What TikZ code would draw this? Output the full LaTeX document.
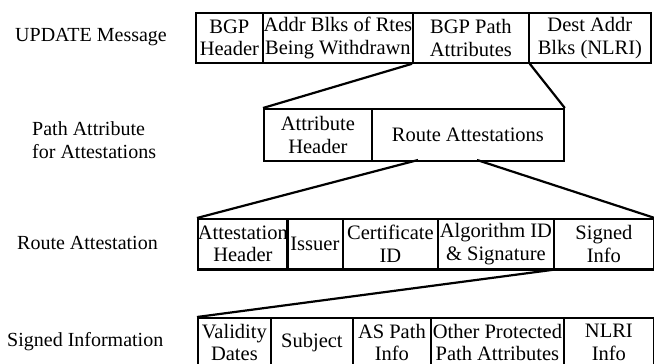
\documentclass[tikz,border=0pt]{standalone}
\usepackage{fontspec}
\setmainfont{Liberation Serif}
\begin{document}
\begin{tikzpicture}[x=1pt,y=-1pt,
  cell/.style={draw, line width=1.8pt, inner sep=0pt, align=center, anchor=north west,
    font=\fontsize{20.5}{22.5}\selectfont},
  lbl/.style={inner sep=0pt, anchor=west, align=left, font=\fontsize{20}{23.5}\selectfont},
  conn/.style={line width=2.2pt}]
\useasboundingbox (0,0) rectangle (654,364);
% row 1
\node[cell, minimum width=67pt, minimum height=50pt] (bgph) at (195,12) {BGP\\Header};
\node[cell, minimum width=150pt, minimum height=50pt] (addr) at (262,12) {Addr Blks of Rtes\\Being Withdrawn};
\node[cell, minimum width=116pt, minimum height=50pt] (path) at (412,12) {BGP Path\\Attributes};
\node[cell, minimum width=122pt, minimum height=50pt] (dest) at (528,12) {Dest Addr\\Blks (NLRI)};
% row 2
\node[cell, minimum width=108pt, minimum height=52pt] (attr) at (263,108) {Attribute\\Header};
\node[cell, minimum width=192pt, minimum height=52pt] (ra) at (371,108) {Route Attestations};
% row 3
\node[cell, minimum width=89pt, minimum height=50pt] (atth) at (197,218) {Attestation\\Header};
\node[cell, minimum width=56pt, minimum height=50pt] (issuer) at (286,218) {Issuer};
\node[cell, minimum width=95pt, minimum height=50pt] (cert) at (342,218) {Certificate\\ID};
\node[cell, minimum width=116pt, minimum height=50pt] (alg) at (437,218) {Algorithm ID\\\& Signature};
\node[cell, minimum width=100pt, minimum height=50pt] (signed) at (553,218) {Signed\\Info};
\draw[line width=3pt] (atth.south west) -- (signed.south east);
% row 4
\node[cell, minimum width=73pt, minimum height=49pt] (valid) at (197,317) {Validity\\Dates};
\node[cell, minimum width=82pt, minimum height=49pt] (subj) at (270,317) {Subject};
\node[cell, minimum width=78pt, minimum height=49pt] (aspath) at (352,317) {AS Path\\Info};
\node[cell, minimum width=133pt, minimum height=49pt] (other) at (430,317) {Other Protected\\Path Attributes};
\node[cell, minimum width=90pt, minimum height=49pt] (nlri) at (563,317) {NLRI\\Info};
% connectors
\draw[conn] (path.south west) -- (attr.north west);
\draw[conn] (path.south east) -- (ra.north east);
\coordinate (raA) at (418,160);
\coordinate (raB) at (477,160);
\draw[conn] (raA) -- (atth.north west);
\draw[conn] (raB) -- (signed.north east);
\draw[conn] (signed.south west) -- (valid.north west);
\draw[conn] (signed.south east) -- (nlri.north east);
% labels
\node[lbl] (l1) at (15,37) {UPDATE Message};
\node[lbl] (l2) at (32,140) {Path Attribute\\for Attestations};
\node[lbl] (l3) at (17,243) {Route Attestation};
\node[lbl] (l4) at (7,342) {Signed Information};
\end{tikzpicture}
\end{document}
